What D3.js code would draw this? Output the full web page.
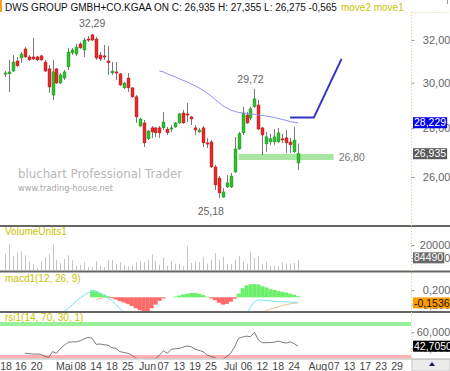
<!DOCTYPE html>
<html>
<head>
<meta charset="utf-8">
<script src="https://cdn.jsdelivr.net/npm/d3@7"></script>
<style>
  body { margin: 0; background: #ffffff; }
  svg { display: block; font-family: "Liberation Sans", Arial, sans-serif; }
</style>
</head>
<body>
<script>

// daily candles, 10.04.2018 - 25.07.2018 (index 0 = first day on screen)
var opens = [30.40, 30.40, 30.53, 31.00, 31.14, 31.57, 31.19, 31.19, 31.19, 31.24,
             30.95, 30.63, 29.44, 30.63, 29.98, 30.21, 30.72, 31.38, 31.33, 31.81,
             31.52, 32.05, 32.25, 32.05, 31.28, 31.24, 31.00, 30.44, 30.49, 30.40,
             29.76, 30.21, 29.76, 29.36, 28.09, 28.22, 27.55, 28.01, 28.01, 28.01,
             28.01, 27.96, 27.96, 28.05, 28.22, 28.65, 28.61, 28.48, 28.01, 27.84,
             28.01, 27.38, 27.42, 26.40, 25.96, 25.22, 25.61, 25.61, 26.20, 27.13,
             27.80, 28.56, 28.43, 28.92, 29.00, 28.01, 27.34, 27.42, 27.42, 27.42,
             27.55, 27.59, 27.42, 27.01, 26.56];
var closes = [30.44, 30.49, 30.95, 30.77, 31.33, 31.19, 31.05, 31.09, 31.05, 31.05,
              30.53, 29.80, 30.49, 29.98, 30.35, 30.49, 31.42, 31.52, 31.66, 31.62,
              32.00, 32.00, 32.00, 31.14, 31.09, 31.19, 30.91, 30.53, 30.44, 29.89,
              29.98, 29.76, 29.36, 28.48, 28.39, 27.38, 27.88, 27.84, 27.80, 27.80,
              28.26, 27.80, 28.01, 28.22, 28.61, 28.22, 28.56, 28.39, 27.92, 27.92,
              27.38, 27.34, 26.40, 25.69, 25.38, 25.42, 25.77, 26.04, 27.13, 27.76,
              28.65, 28.22, 28.83, 29.27, 27.96, 27.71, 27.63, 27.55, 27.63, 27.80,
              27.50, 27.38, 27.30, 27.50, 26.935];
var highs = [30.53, 31.05, 31.28, 31.19, 31.42, 31.66, 31.28, 32.10, 31.24, 31.28,
             31.05, 30.81, 31.05, 30.67, 30.44, 30.58, 31.62, 31.62, 31.81, 31.90,
             32.10, 32.19, 32.29, 32.15, 31.42, 31.76, 31.71, 30.95, 30.95, 30.44,
             30.03, 30.44, 29.80, 29.44, 28.43, 28.35, 27.92, 28.09, 28.05, 28.09,
             28.69, 28.05, 28.13, 28.26, 28.65, 28.78, 29.09, 28.52, 28.13, 28.01,
             28.09, 27.59, 27.50, 26.48, 26.04, 25.57, 26.08, 26.16, 27.63, 27.84,
             28.92, 28.69, 28.92, 29.72, 29.22, 28.05, 27.84, 27.76, 27.96, 28.01,
             27.76, 27.92, 27.59, 28.05, 27.355];
var lows = [30.26, 29.58, 30.49, 30.72, 30.91, 31.14, 31.00, 31.05, 31.00, 31.00,
            30.49, 29.54, 29.22, 29.94, 29.94, 30.12, 30.58, 31.28, 31.24, 31.57,
            31.19, 31.90, 31.95, 31.05, 31.00, 31.05, 30.35, 30.35, 30.12, 29.85,
            29.71, 29.58, 29.31, 28.22, 28.05, 27.21, 27.50, 27.59, 27.63, 27.59,
            27.92, 27.71, 27.84, 28.01, 28.18, 28.18, 28.26, 28.13, 27.71, 27.80,
            27.21, 27.17, 26.36, 25.49, 25.18, 25.20, 25.57, 25.57, 26.16, 27.09,
            27.71, 28.18, 28.35, 28.87, 27.92, 26.88, 27.01, 27.30, 27.30, 27.38,
            27.38, 26.97, 26.97, 26.97, 26.275];
var volumes = [130000, 205000, 113000, 143000, 150000, 120000, 67000, 53000, 20000, 75000,
               105000, 128000, 205000, 83000, 58000, 90000, 120000, 80000, 38000, 45000,
               65000, 28000, 30000, 75000, 43000, 28000, 80000, 83000, 53000, 65000,
               45000, 35000, 45000, 65000, 73000, 65000, 86000, 125000, 78000, 47000,
               99000, 39000, 73000, 55000, 55000, 34000, 190000, 60000, 73000, 68000,
               104000, 55000, 86000, 138000, 81000, 107000, 52000, 52000, 86000, 114000,
               70000, 55000, 150000, 99000, 112000, 55000, 68000, 39000, 39000, 34000,
               68000, 55000, 55000, 60000, 84490];

// move1: moving average, starts at index 39
var ma1Start = 39;
var ma1 = [30.53, 30.49, 30.40, 30.33, 30.26, 30.17, 30.10, 30.03, 29.94, 29.85,
           29.76, 29.65, 29.54, 29.40, 29.25, 29.11, 28.96, 28.87, 28.78, 28.72,
           28.67, 28.65, 28.63, 28.61, 28.59, 28.56, 28.54, 28.52, 28.49, 28.46,
           28.41, 28.37, 28.33, 28.28, 28.25, 28.229];

// move2: projected path
var move2Idx = [72, 78, 85];
var move2Val = [28.45, 28.45, 31.1];

// support zone
var supportLevel = 26.80;
var supportFrom = 59, supportTo = 83;

// macd1(12, 26, 9)
var macdStart = 13;
var macdLine = [-0.5, -0.45, -0.38, -0.3, -0.2, -0.1, -0.02, 0.06, 0.12, 0.17,
                0.18, 0.1, 0.04, -0.02, -0.08, -0.2, -0.3, -0.42, -0.5, -0.6,
                -0.7, -0.8, -0.88, -0.92, -0.95, -0.96, -0.95, -0.92, -0.9, -0.87,
                -0.84, -0.8, -0.77, -0.75, -0.74, -0.74, -0.75, -0.78, -0.82, -0.9,
                -1.0, -1.1, -1.15, -1.12, -1.05, -0.9, -0.75, -0.6, -0.45, -0.27,
                -0.12, -0.07, -0.08, -0.09, -0.1, -0.11, -0.12, -0.12, -0.13, -0.13,
                -0.14, -0.137];
var signalStart = 23;
var signalLine = [-0.07, -0.03, -0.01, -0.005, -0.015, -0.05, -0.09, -0.12, -0.16, -0.21,
                  -0.27, -0.32, -0.45, -0.5, -0.55, -0.62, -0.7, -0.76, -0.8, -0.83,
                  -0.84, -0.85, -0.84, -0.83, -0.82, -0.81, -0.8, -0.8, -0.81, -0.83,
                  -0.87, -0.92, -0.97, -1.0, -1.0, -0.98, -0.93, -0.86, -0.78, -0.67,
                  -0.56, -0.48, -0.42, -0.36, -0.32, -0.29, -0.26, -0.23, -0.2, -0.18,
                  -0.165, -0.1536];
var histStart = 22;
var histValues = [0.19, 0.16, 0.12, 0.07, 0.03, -0.02, -0.06, -0.1, -0.14, -0.18,
                  -0.24, -0.3, -0.35, -0.42, -0.4, -0.3, -0.2, -0.1, -0.03, 0,
                  0, 0.02, 0.05, 0.08, 0.1, 0.12, 0.12, 0.1, 0.06, 0.02,
                  -0.03, -0.08, -0.15, -0.2, -0.18, -0.12, -0.04, 0.1, 0.25, 0.33,
                  0.36, 0.36, 0.35, 0.3, 0.27, 0.22, 0.2, 0.17, 0.15, 0.13,
                  0.1, 0.07, 0.03];

// rsi1(14, 70, 30, 1)
var rsiStart = 5;
var rsiValues = [34, 33.5, 33, 33, 32.7, 30.5, 28.5, 36, 34, 40,
                 44, 47.5, 48, 48, 49.5, 51.5, 53.6, 52.4, 45, 45.4,
                 44.5, 44, 40.8, 40, 36, 35, 34, 32, 28, 25.7,
                 26.5, 27, 27, 27, 32, 36.8, 34, 39, 39.5, 40,
                 41.5, 43, 42, 39, 37.5, 36, 32, 30, 28.5, 25,
                 27, 29.8, 34, 42, 52.4, 54, 55, 54.4, 59.8, 50.3,
                 47, 47, 47.2, 47.5, 49, 47.5, 46.5, 48, 46, 42.705];
var rsiUpper = 70, rsiLower = 30;

// time axis
var dateTicks = [0, 4, 8, 15, 19, 23, 27, 31, 36, 40, 44, 48, 52, 57, 61, 65, 69, 73, 79, 83, 87, 91, 95, 99];
var dateLabels = ["'18", "16", "20", "Mai", "08", "14", "18", "25", "Jun", "07", "13", "19", "25",
                  "Jul", "06", "12", "18", "24", "Aug", "07", "13", "17", "23", "29"];

var priceTicks = [26, 28, 30, 32];
var volumeTicks = [100000, 200000];
var macdTicks = [-0.2, 0.2];
var rsiTicks = [40, 60];

var title = "DWS GROUP GMBH+CO.KGAA ON C: 26,935 H: 27,355 L: 26,275 -0,565";

var de = d3.formatLocale({decimal: ",", thousands: ".", grouping: [3], currency: ["", ""], minus: "-"});

// scales
var x = d3.scaleLinear().domain([0, 99]).range([5, 397]);
var step = x(1) - x(0);
var yPrice = d3.scaleLog().domain([25, 33]).range([202.9, 19.7]);
var yVol = d3.scaleLinear().domain([0, 200000]).range([270.7, 245]);
var yMacd = d3.scaleLinear().domain([-0.2, 0.2]).range([304.6, 290]);
var yRsi = d3.scaleLinear().domain([30, 70]).range([356.5, 324]);

var svg = d3.select("body").append("svg")
    .attr("width", 450)
    .attr("height", 371);

var scaleX = 411.5;
var yellow = "#c8c400";

// clip areas for the four panes
function addClip(id, y0, y1) {
  svg.append("clipPath").attr("id", id)
    .append("rect").attr("x", 0).attr("y", y0).attr("width", 411).attr("height", y1 - y0);
}
addClip("clipMain", 12, 225);
addClip("clipVol", 227, 270.5);
addClip("clipMacd", 272.5, 311);
addClip("clipRsi", 313, 358.5);

// title line
svg.append("rect").attr("x", 0).attr("y", 0).attr("width", 2).attr("height", 12).attr("fill", "#f5a01a");
var titleText = svg.append("text")
    .attr("x", 5).attr("y", 10.5)
    .attr("font-size", "10px").attr("fill", "#111")
    .text(title);
var tw = titleText.node().getComputedTextLength();
svg.append("text")
    .attr("x", 5 + tw + 4).attr("y", 10.5)
    .attr("font-size", "10px").attr("fill", yellow)
    .text("move2 move1");
svg.append("line").attr("x1", 447.5).attr("x2", 447.5).attr("y1", 0).attr("y2", 4).attr("stroke", "#999");

// watermark
svg.append("text")
    .attr("x", 18).attr("y", 177.5)
    .attr("font-family", "DejaVu Sans").attr("font-size", "13px")
    .attr("fill", "#b8b8b8")
    .attr("textLength", 164).attr("lengthAdjust", "spacingAndGlyphs")
    .text("bluchart Professional Trader");
svg.append("text")
    .attr("x", 18).attr("y", 190.5)
    .attr("font-family", "DejaVu Sans").attr("font-size", "9px")
    .attr("fill", "#a8a8a8")
    .attr("textLength", 95).attr("lengthAdjust", "spacingAndGlyphs")
    .text("www.trading-house.net");

// ---------- main pane ----------
var main = svg.append("g").attr("clip-path", "url(#clipMain)");
var idx = d3.range(opens.length);

// support zone
main.append("rect")
    .attr("x", x(supportFrom))
    .attr("width", x(supportTo) - x(supportFrom))
    .attr("y", yPrice(supportLevel) - 3)
    .attr("height", 6)
    .attr("fill", "#a9e6a2");

// wicks
main.selectAll(".wick")
    .data(idx)
    .enter()
    .append("line")
    .attr("x1", function(i) { return Math.round(x(i)) + 0.5; })
    .attr("x2", function(i) { return Math.round(x(i)) + 0.5; })
    .attr("y1", function(i) { return yPrice(highs[i]); })
    .attr("y2", function(i) { return yPrice(lows[i]); })
    .attr("stroke", "#7a7a7a");

// bodies
main.selectAll(".body")
    .data(idx)
    .enter()
    .append("rect")
    .attr("x", function(i) { return Math.round(x(i)) - 1; })
    .attr("width", 3)
    .attr("y", function(i) { return yPrice(Math.max(opens[i], closes[i])); })
    .attr("height", function(i) {
      return Math.max(1.2, Math.abs(yPrice(opens[i]) - yPrice(closes[i])));
    })
    .attr("fill", function(i) { return closes[i] >= opens[i] ? "#2dbd2d" : "#e62828"; })
    .attr("stroke", function(i) { return closes[i] >= opens[i] ? "#1e8e1e" : "#b01818"; })
    .attr("stroke-width", 0.4);

// move1
main.append("path")
    .datum(ma1)
    .attr("fill", "none")
    .attr("stroke", "#8f8ff5")
    .attr("stroke-width", 1)
    .attr("d", d3.line()
      .x(function(d, k) { return x(ma1Start + k); })
      .y(function(d) { return yPrice(d); }));

// move2
main.append("path")
    .datum(move2Val)
    .attr("fill", "none")
    .attr("stroke", "#3434c4")
    .attr("stroke-width", 2)
    .attr("d", d3.line()
      .x(function(d, k) { return x(move2Idx[k]); })
      .y(function(d) { return yPrice(d); }));

// extreme labels
function priceNote(i, value, dx, dy) {
  svg.append("text")
      .attr("x", x(i) + dx)
      .attr("y", yPrice(value) + dy)
      .attr("text-anchor", "middle")
      .attr("font-size", "10.5px")
      .attr("fill", "#666")
      .text(de.format(".2f")(value));
}
priceNote(22, highs[22], 0, -7);
priceNote(63, highs[63], -4, -6);
priceNote(54, lows[54], -8, 17);

svg.append("text")
    .attr("x", x(supportTo) + 5)
    .attr("y", yPrice(supportLevel) + 3.5)
    .attr("font-size", "10.5px")
    .attr("fill", "#777")
    .text(de.format(".2f")(supportLevel));

// ---------- volume pane ----------
var vol = svg.append("g").attr("clip-path", "url(#clipVol)");
vol.selectAll("rect")
    .data(idx)
    .enter()
    .append("rect")
    .attr("x", function(i) { return Math.round(x(i)); })
    .attr("width", 1)
    .attr("y", function(i) { return yVol(volumes[i]); })
    .attr("height", function(i) { return yVol(0) - yVol(volumes[i]); })
    .attr("fill", "#c4c4c4");

// ---------- macd pane ----------
var macd = svg.append("g").attr("clip-path", "url(#clipMacd)");
var lineMacd = d3.line()
    .x(function(d, k) { return x(macdStart + k); })
    .y(function(d) { return yMacd(d); });
var lineSignal = d3.line()
    .x(function(d, k) { return x(signalStart + k); })
    .y(function(d) { return yMacd(d); });

macd.append("path")
    .datum(signalLine)
    .attr("fill", "none")
    .attr("stroke", "#f7c08a")
    .attr("stroke-width", 1)
    .attr("d", lineSignal);

macd.selectAll(".hist")
    .data(histValues)
    .enter()
    .append("rect")
    .attr("x", function(d, k) { return x(histStart + k) - step / 2; })
    .attr("width", step + 0.2)
    .attr("y", function(d) { return Math.min(yMacd(d), yMacd(0)); })
    .attr("height", function(d) { return Math.abs(yMacd(d) - yMacd(0)); })
    .attr("fill", function(d) { return d >= 0 ? "#6cf06c" : "#ff6a6a"; });

macd.append("path")
    .datum(macdLine)
    .attr("fill", "none")
    .attr("stroke", "#72e4f2")
    .attr("stroke-width", 1)
    .attr("d", lineMacd);

// ---------- rsi pane ----------
var rsi = svg.append("g").attr("clip-path", "url(#clipRsi)");
rsi.append("rect")
    .attr("x", 0).attr("width", 411)
    .attr("y", yRsi(rsiUpper) - 2).attr("height", 4)
    .attr("fill", "#9af09a");
rsi.append("rect")
    .attr("x", 0).attr("width", 411)
    .attr("y", yRsi(rsiLower) - 1.5).attr("height", 3.5)
    .attr("fill", "#ffb0b0");
rsi.append("path")
    .datum(rsiValues)
    .attr("fill", "none")
    .attr("stroke", "#5a5a5a")
    .attr("stroke-width", 0.8)
    .attr("d", d3.line()
      .x(function(d, k) { return x(rsiStart + k); })
      .y(function(d) { return yRsi(d); }));

// pane titles
[["VolumeUnits1", 235], ["macd1(12, 26, 9)", 282], ["rsi1(14, 70, 30, 1)", 321]].forEach(function(p) {
  svg.append("text")
      .attr("x", 5).attr("y", p[1])
      .attr("font-size", "10px")
      .attr("fill", yellow)
      .text(p[0]);
});

// pane separators
[226, 271.5, 312].forEach(function(yy) {
  svg.append("line")
      .attr("x1", 0).attr("x2", 450)
      .attr("y1", yy).attr("y2", yy)
      .attr("stroke", "#666").attr("stroke-width", 2);
});
svg.append("line")
    .attr("x1", 0).attr("x2", 450)
    .attr("y1", 359).attr("y2", 359)
    .attr("stroke", "#b5b5b5").attr("stroke-width", 1);

// ---------- right scales ----------
svg.append("line")
    .attr("x1", scaleX).attr("x2", scaleX)
    .attr("y1", 12).attr("y2", 359)
    .attr("stroke", "#e2cd92")
    .attr("stroke-dasharray", "1,2");
svg.append("line")
    .attr("x1", scaleX).attr("x2", 450)
    .attr("y1", 12.5).attr("y2", 12.5)
    .attr("stroke", "#e2cd92")
    .attr("stroke-dasharray", "1,2");

function rightAxis(scale, ticks, fmt) {
  var g = svg.append("g")
      .attr("transform", "translate(" + scaleX + ",0)")
      .call(d3.axisRight(scale).tickValues(ticks).tickFormat(fmt).tickSize(3));
  g.select(".domain").remove();
  g.selectAll(".tick line").attr("stroke", "#999");
  g.selectAll(".tick text")
      .attr("x", 45)
      .attr("text-anchor", "end")
      .attr("fill", "#666")
      .attr("font-size", "11px")
      .attr("font-family", "Liberation Sans, Arial, sans-serif");
}
rightAxis(yPrice, priceTicks, de.format(".3f"));
rightAxis(yVol, volumeTicks, de.format("d"));
rightAxis(yMacd, macdTicks, de.format(".4f"));
rightAxis(yRsi, rsiTicks, de.format(".4f"));

// last value boxes
function valueBox(yy, label, bg, fg) {
  var g = svg.append("g");
  var r = g.append("rect");
  var t = g.append("text")
      .attr("x", 414).attr("y", yy + 3.6)
      .attr("font-size", "10.5px")
      .attr("fill", fg)
      .text(label);
  var w = t.node().getComputedTextLength();
  r.attr("x", 413).attr("y", yy - 5.5).attr("width", w + 2).attr("height", 11).attr("fill", bg);
}
valueBox(yPrice(ma1[ma1.length - 1]), de.format(".3f")(ma1[ma1.length - 1]), "#0000f0", "#ffffff");
valueBox(yPrice(closes[closes.length - 1]), de.format(".3f")(closes[closes.length - 1]), "#5a5a5a", "#ffffff");
valueBox(yVol(100000), de.format("d")(volumes[volumes.length - 1]), "#6a6a6a", "#ffffff");
valueBox(yMacd(signalLine[signalLine.length - 1]), de.format(".4f")(signalLine[signalLine.length - 1]), "#ff9c00", "#111111");
valueBox(yRsi(rsiValues[rsiValues.length - 1]), de.format(".4f")(rsiValues[rsiValues.length - 1]), "#000000", "#ffffff");

// ---------- time axis ----------
svg.selectAll(".date")
    .data(dateTicks)
    .enter()
    .append("text")
    .attr("x", function(d) { return x(d); })
    .attr("y", 369.5)
    .attr("text-anchor", "middle")
    .attr("font-size", "10.5px")
    .attr("fill", "#444")
    .text(function(d, k) { return dateLabels[k]; });

svg.append("rect")
    .attr("x", 412).attr("y", 359.5).attr("width", 38).attr("height", 11.5)
    .attr("fill", "#ececec").attr("stroke", "#c8c8c8");
svg.append("path")
    .attr("d", "M429,366 L432,362 L435,366 Z")
    .attr("fill", "#1a1a6a");

</script>
</body>
</html>
